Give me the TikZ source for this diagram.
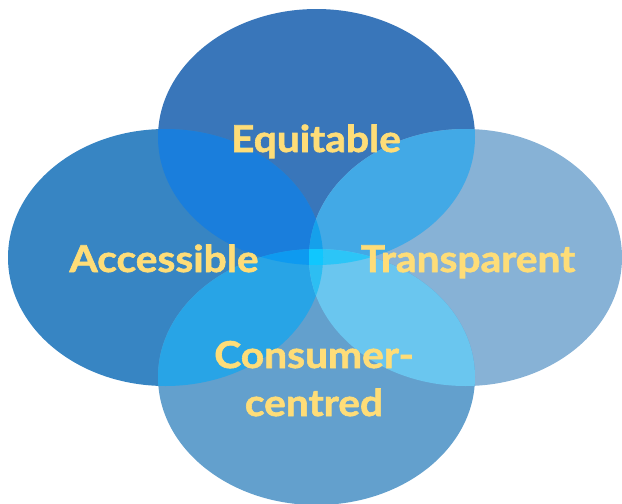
\documentclass[tikz,border=0pt]{standalone}
\usepackage{fontspec}
\setmainfont{Lato}[FakeStretch=1.1, BoldFeatures={FakeBold=1.6}]
\usepackage{tikz}

\definecolor{topblue}{HTML}{3976BA}
\definecolor{leftblue}{HTML}{3785C3}
\definecolor{rightblue}{HTML}{87B2D6}
\definecolor{bottomblue}{HTML}{63A0CD}
\definecolor{tlblue}{HTML}{1A7EDC}
\definecolor{trblue}{HTML}{42A9E6}
\definecolor{lbblue}{HTML}{28A4E6}
\definecolor{rbblue}{HTML}{6AC6EF}
\definecolor{tlbblue}{HTML}{0E9AF0}
\definecolor{trbblue}{HTML}{2CC5F7}
\definecolor{tlrblue}{HTML}{15A0EB}
\definecolor{lrbblue}{HTML}{2DBEF2}
\definecolor{centreblue}{HTML}{10C7FE}
\definecolor{wordyellow}{HTML}{FEDD78}

\newcommand{\topoval}{(316.5,137) ellipse [x radius=158.5pt, y radius=128pt]}
\newcommand{\leftoval}{(165.5,257.5) ellipse [x radius=157.5pt, y radius=128.5pt]}
\newcommand{\rightoval}{(465.5,257.5) ellipse [x radius=156.5pt, y radius=128.5pt]}
\newcommand{\bottomoval}{(316.5,377) ellipse [x radius=158.5pt, y radius=128pt]}

\tikzset{
	word/.style={text=wordyellow, anchor=base, inner sep=0pt,
		font=\fontsize{37}{48}\selectfont\bfseries}
}

\begin{document}
\begin{tikzpicture}[x=1pt,y=-1pt]
		\useasboundingbox (0,0) rectangle (622,504);
		% one oval each
		\path[fill=topblue] \topoval;
		\path[fill=leftblue] \leftoval;
		\path[fill=rightblue] \rightoval;
		\path[fill=bottomblue] \bottomoval;
		% where two ovals meet
		\begin{scope}
			\clip \topoval;
			\path[fill=tlblue] \leftoval;
			\path[fill=trblue] \rightoval;
		\end{scope}
		\begin{scope}
			\clip \bottomoval;
			\path[fill=lbblue] \leftoval;
			\path[fill=rbblue] \rightoval;
		\end{scope}
		% where three meet
		\begin{scope}
			\clip \topoval;
			\clip \bottomoval;
			\path[fill=tlbblue] \leftoval;
			\path[fill=trbblue] \rightoval;
		\end{scope}
		\begin{scope}
			\clip \leftoval;
			\clip \rightoval;
			\path[fill=tlrblue] \topoval;
			\path[fill=lrbblue] \bottomoval;
		\end{scope}
		% all four
		\begin{scope}
			\clip \topoval;
			\clip \bottomoval;
			\clip \leftoval;
			\path[fill=centreblue] \rightoval;
		\end{scope}
		% the words
		\node[word] (equitable) at (316,152) {Equitable};
		\node[word] (accessible) at (164,272) {Accessible};
		\node[word] (transparent) at (468,272) {Transparent};
		\node[word] (consumer) at (314,368) {Consumer-};
		\node[word] (centred) at (314,416) {centred};
	\end{tikzpicture}
\end{document}
